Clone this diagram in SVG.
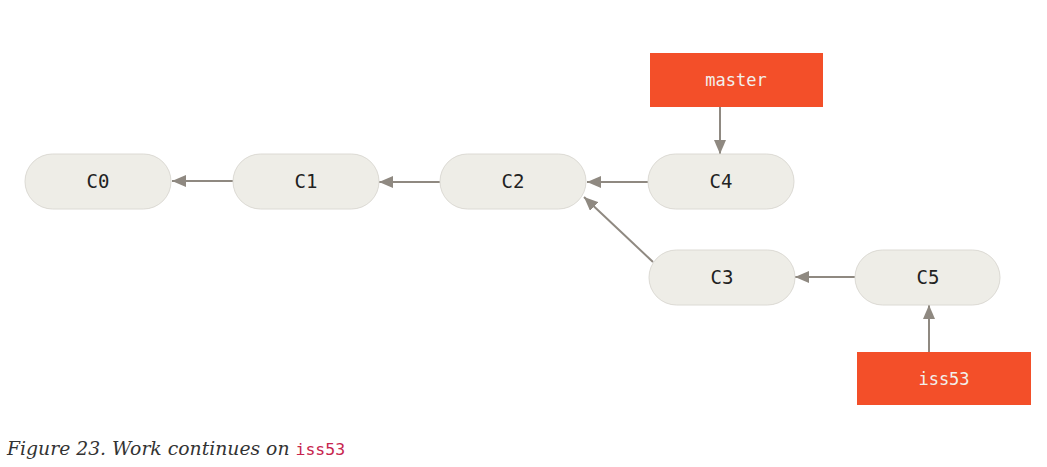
<svg xmlns="http://www.w3.org/2000/svg" width="1047" height="467" viewBox="0 0 1047 467">
<style>
.commit rect{fill:#EEEDE7;stroke:#DCDAD4;stroke-width:1}
.commit text{font-family:"DejaVu Sans Mono","Liberation Mono",monospace;font-size:19px;fill:#222;text-anchor:middle}
.branch rect{fill:#F34F29}
.branch text{font-family:"DejaVu Sans Mono","Liberation Mono",monospace;font-size:17px;fill:#F2F0EC;text-anchor:middle}
.conn line{stroke:#8F8981;stroke-width:2;marker-end:url(#ah)}
.cap{font-family:"DejaVu Serif","Liberation Serif",serif;font-style:italic;font-size:18.8px;fill:#333}
.code{font-family:"DejaVu Sans Mono","Liberation Mono",monospace;font-style:normal;font-size:16.5px;fill:#C7254E}
</style>
<defs>
<marker id="ah" viewBox="0 0 14 12" refX="14" refY="6" markerWidth="14" markerHeight="12" markerUnits="userSpaceOnUse" orient="auto">
<path d="M0,0 L14,6 L0,12 Z" fill="#8F8981"/>
</marker>
</defs>
<g id="connectors" class="conn">
<line x1="233" y1="181" x2="172" y2="181"/>
<line x1="440" y1="182" x2="379" y2="182"/>
<line x1="648" y1="182" x2="587" y2="182"/>
<line x1="653" y1="262" x2="584" y2="197"/>
<line x1="855" y1="277" x2="795" y2="277"/>
<line x1="720" y1="107" x2="720" y2="154"/>
<line x1="929" y1="352" x2="929" y2="305"/>
</g>
<g id="C0" class="commit"><rect x="25" y="154" width="146" height="55" rx="27.5"/><text x="98" y="188">C0</text></g>
<g id="C1" class="commit"><rect x="233" y="154" width="146" height="55" rx="27.5"/><text x="306" y="188">C1</text></g>
<g id="C2" class="commit"><rect x="440" y="154" width="146" height="55" rx="27.5"/><text x="513" y="188">C2</text></g>
<g id="C4" class="commit"><rect x="648" y="154" width="146" height="55" rx="27.5"/><text x="721" y="188">C4</text></g>
<g id="C3" class="commit"><rect x="649" y="250" width="146" height="55" rx="27.5"/><text x="722" y="284">C3</text></g>
<g id="C5" class="commit"><rect x="855" y="250" width="145" height="55" rx="27.5"/><text x="928" y="284">C5</text></g>
<g id="master" class="branch"><rect x="650" y="53" width="173" height="54"/><text x="736" y="86">master</text></g>
<g id="iss53" class="branch"><rect x="857" y="352" width="174" height="53"/><text x="944" y="385">iss53</text></g>
<text class="cap" x="7" y="455">Figure 23. Work continues on <tspan class="code">iss53</tspan></text>
</svg>
